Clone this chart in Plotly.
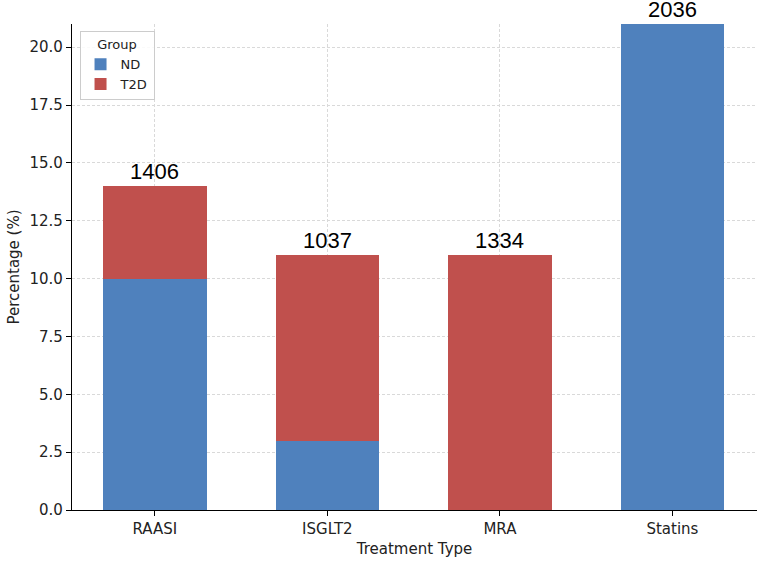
import plotly.graph_objects as go

categories = ["RAASI", "ISGLT2", "MRA", "Statins"]
nd_values = [10, 3, 0, 21]
t2d_values = [4, 8, 11, 0]
counts = ["1406", "1037", "1334", "2036"]

blue = "#4f81bd"
red = "#c0504d"

fig = go.Figure()
fig.add_trace(go.Bar(x=categories, y=nd_values, name="ND", marker_color=blue,
                     marker_line_width=0, width=0.6))
fig.add_trace(go.Bar(x=categories, y=t2d_values, name="T2D", marker_color=red,
                     marker_line_width=0, width=0.6))

totals = [a + b for a, b in zip(nd_values, t2d_values)]
for c, t, n in zip(categories, totals, counts):
    fig.add_annotation(x=c, y=t, text=n, showarrow=False, yanchor="bottom",
                       yshift=1, borderpad=0,
                       font=dict(family="Liberation Sans", size=22, color="black"))

fig.update_layout(
    barmode="stack",
    width=767, height=562,
    margin=dict(l=72, r=10, t=24, b=52, autoexpand=False),
    plot_bgcolor="white", paper_bgcolor="white",
    font=dict(family="DejaVu Sans", size=13, color="#222"),
    showlegend=True,
    legend=dict(
        title=dict(text="Group", side="top center", font=dict(size=13)),
        traceorder="normal",
        x=0.011, y=0.985, xanchor="left", yanchor="top",
        bgcolor="rgba(255,255,255,0.85)", bordercolor="#cccccc", borderwidth=1,
        font=dict(size=13), itemwidth=30, tracegroupgap=2,
    ),
)
fig.update_xaxes(
    range=[-0.48, 3.49], showline=True, linecolor="black", linewidth=1.2,
    ticks="outside", ticklen=5, tickcolor="black", automargin=False,
    showgrid=True, gridcolor="#d9d9d9", griddash="3px,2px", gridwidth=1,
    title=dict(text="Treatment Type", standoff=6, font=dict(size=15)),
    tickfont=dict(size=15), layer="above traces",
)
fig.update_yaxes(
    range=[0, 21], dtick=2.5, tickformat=".1f", showline=True, linecolor="black",
    linewidth=1.2, ticks="outside", ticklen=5, tickcolor="black", automargin=False,
    showgrid=True, gridcolor="#d9d9d9", griddash="3px,2px", gridwidth=1,
    zeroline=False,
    title=dict(text="Percentage (%)", standoff=6, font=dict(size=15)),
    tickfont=dict(size=15), layer="above traces",
)
fig.write_html("out.html", config={"displayModeBar": False},
               post_script="document.body.style.margin='0';")
